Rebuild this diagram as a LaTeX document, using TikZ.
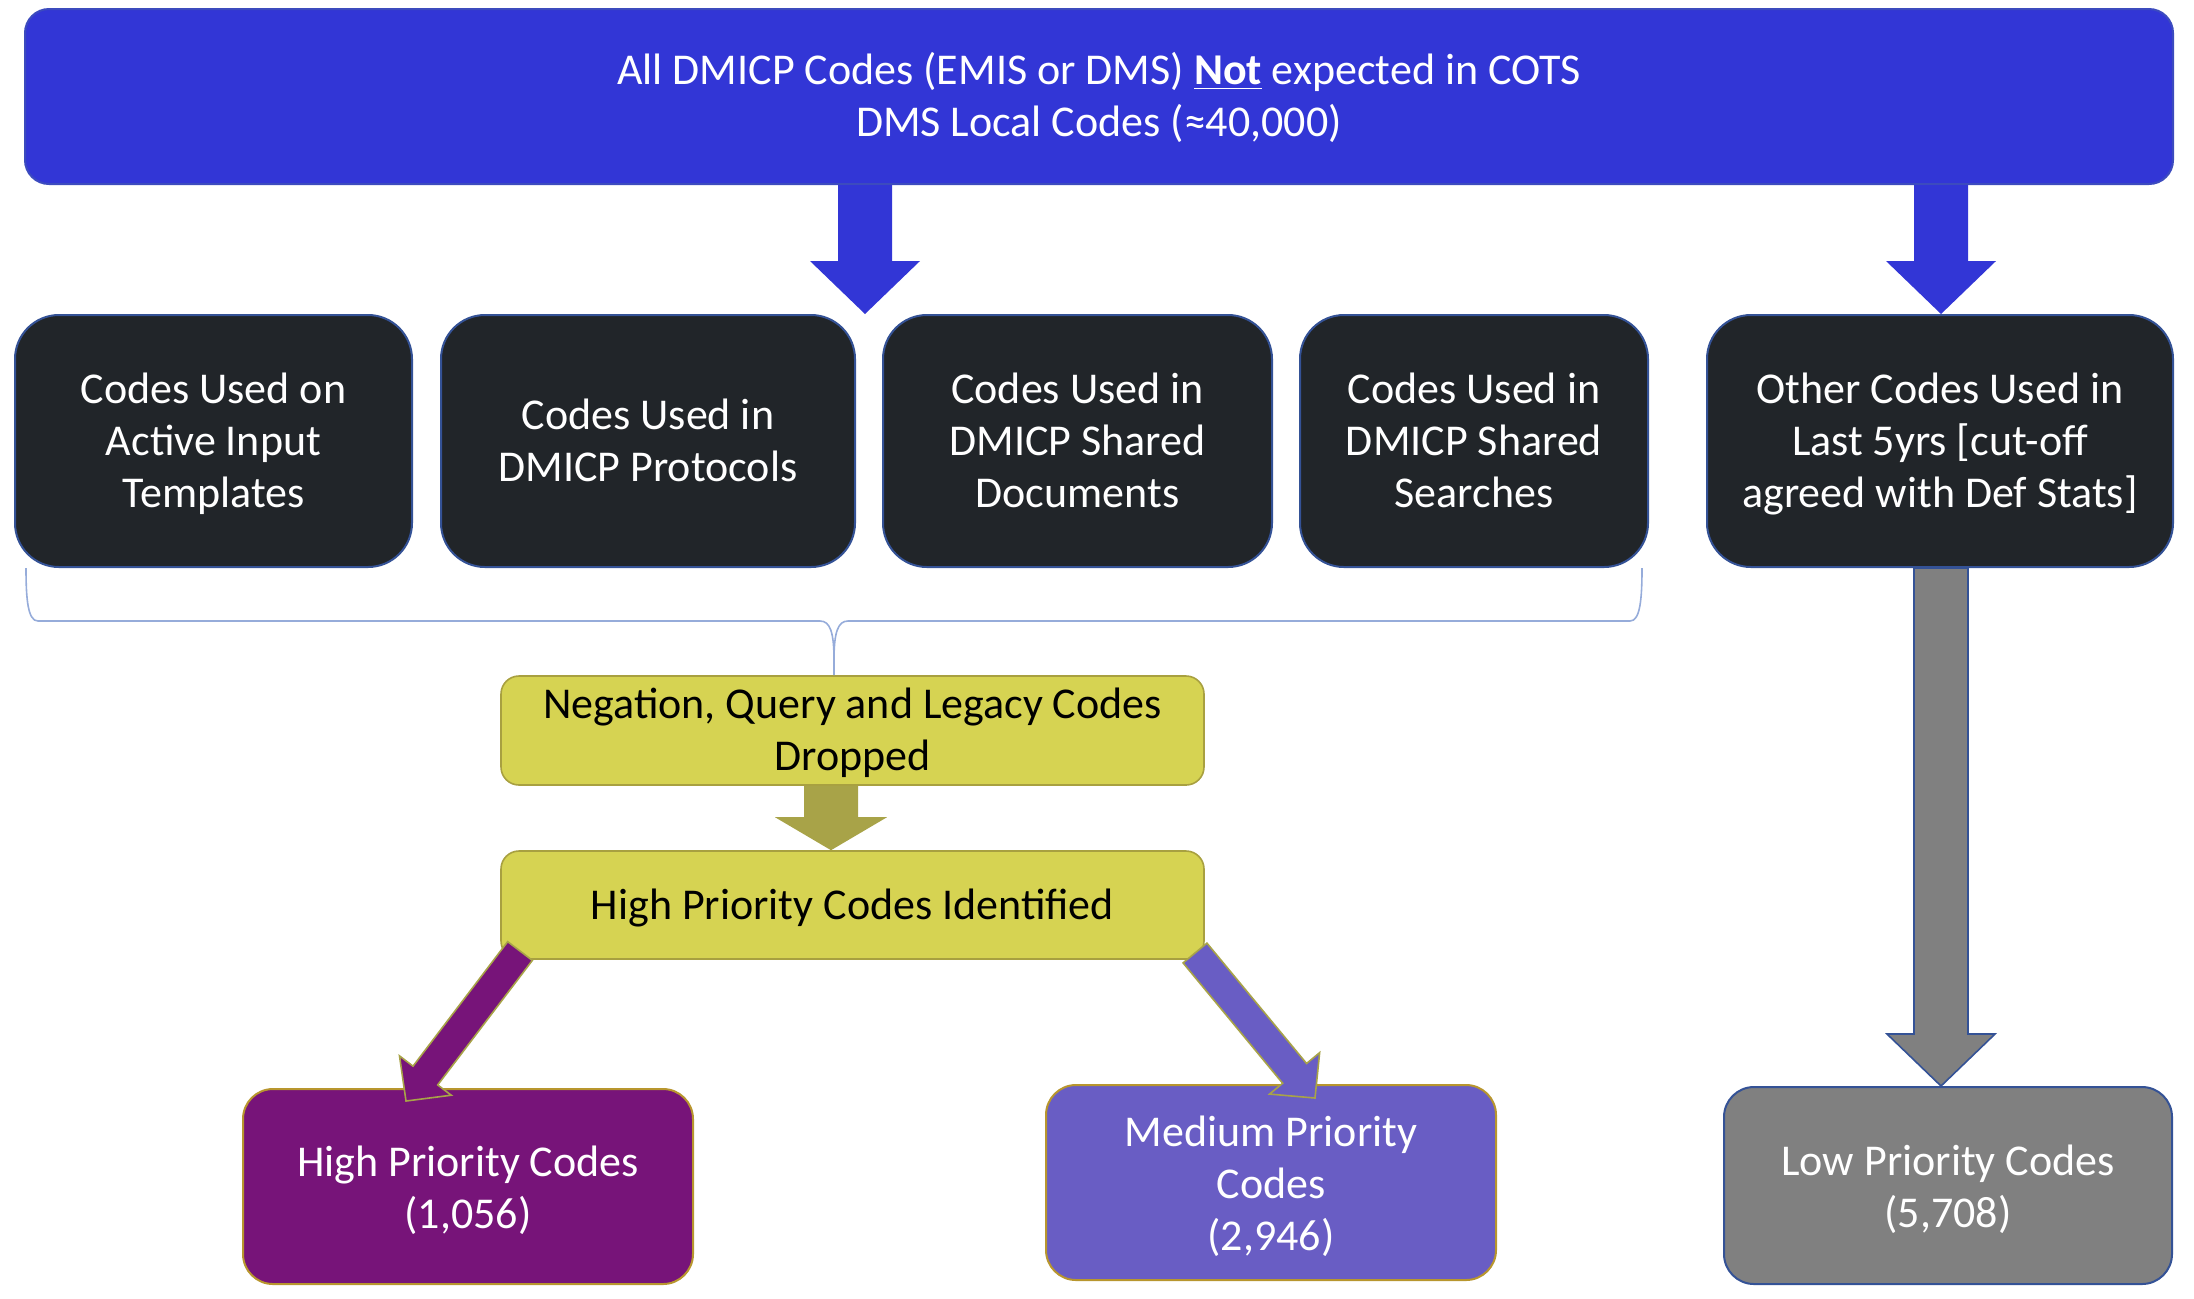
\documentclass[tikz,border=0pt]{standalone}
\usepackage{fontspec}
\setmainfont{Carlito}
\usetikzlibrary{calc}
\definecolor{cBlue}{RGB}{50,54,214}
\definecolor{cBlueB}{RGB}{60,75,190}
\definecolor{cDark}{RGB}{33,37,41}
\definecolor{cDarkB}{RGB}{52,82,150}
\definecolor{cYel}{RGB}{214,211,82}
\definecolor{cYelB}{RGB}{168,160,64}
\definecolor{cOlive}{RGB}{168,163,72}
\definecolor{cPurp}{RGB}{119,20,121}
\definecolor{cMed}{RGB}{105,93,196}
\definecolor{cGold}{RGB}{184,150,46}
\definecolor{cGray}{RGB}{128,128,128}
\definecolor{cBrace}{RGB}{150,172,218}
\newcommand\fs{\fontsize{22pt}{26pt}\selectfont}
\newcommand\ml[1]{\raisebox{-2pt}[\height][\depth]{\begin{tabular}{@{}c@{}}#1\end{tabular}}}
\newcommand\mlb[1]{\raisebox{-3pt}[\height][\depth]{\begin{tabular}{@{}c@{}}#1\end{tabular}}}
\newcommand{\blockarrow}[6]{%
  \coordinate (ba-h) at ($(#3)!#6!(#2)$);
  \draw[#1] ($(#2)!#4!90:(#3)$) -- ($(ba-h)!#4!90:(#3)$) -- ($(ba-h)!#5!90:(#3)$) -- (#3)
    -- ($(ba-h)!#5!-90:(#3)$) -- ($(ba-h)!#4!-90:(#3)$) -- ($(#2)!#4!-90:(#3)$) -- cycle;
}
\tikzset{
  box/.style={inner sep=0pt, font=\fs},
  topbox/.style={box, fill=cBlue, draw=cBlueB, line width=1pt, rounded corners=12pt, text=white},
  darkbox/.style={box, fill=cDark, draw=cDarkB, line width=1pt, rounded corners=22pt, text=white, minimum height=126pt},
  yelbox/.style={box, fill=cYel, draw=cYelB, line width=0.8pt, rounded corners=9pt, text=black, minimum width=351.5pt},
  hibox/.style={box, fill=cPurp, draw=cGold, line width=1pt, rounded corners=15pt, text=white, minimum width=225pt, minimum height=97.5pt},
  medbox/.style={box, fill=cMed, draw=cGold, line width=1pt, rounded corners=15pt, text=white, minimum width=225pt, minimum height=97.5pt},
  lowbox/.style={box, fill=cGray, draw=cDarkB, line width=1pt, rounded corners=15pt, text=white, minimum width=224pt, minimum height=98.5pt},
  bluearrow/.style={fill=cBlue, draw=none},
  olivearrow/.style={fill=cOlive, draw=none},
  grayarrow/.style={fill=cGray, draw=cDarkB, line width=0.8pt, line join=miter},
  purparrow/.style={fill=cPurp, draw=cOlive, line width=0.8pt, line join=miter},
  medarrow/.style={fill=cMed, draw=cOlive, line width=0.8pt, line join=miter},
  brace/.style={draw=cBrace, line width=0.8pt},
}
\begin{document}
\begin{tikzpicture}[x=0.5pt,y=-0.5pt]
\useasboundingbox (0,0) rectangle (2194,1298);
% top
\node[topbox, minimum width=1074pt, minimum height=87.5pt] (top) at (1099,96.5)
  {\ml{All DMICP Codes (EMIS or DMS) \underline{\textbf{Not}} expected in COTS\\DMS Local Codes (≈40,000)}};
% dark boxes
\node[darkbox, minimum width=198.5pt] (d1) at (213.5,441) {\ml{Codes Used on\\Active Input\\Templates}};
\node[darkbox, minimum width=207pt] (d2) at (648,441) {\ml{Codes Used in\\DMICP Protocols}};
\node[darkbox, minimum width=194.5pt] (d3) at (1077.5,441) {\ml{Codes Used in\\DMICP Shared\\Documents}};
\node[darkbox, minimum width=174pt] (d4) at (1474,441) {\ml{Codes Used in\\DMICP Shared\\Searches}};
\node[darkbox, minimum width=233pt] (d5) at (1940,441) {\ml{Other Codes Used in\\Last 5yrs [cut-off\\agreed with Def Stats]}};
% yellow
\node[yelbox, minimum height=54.5pt] (y1) at (852.5,730.5) {\ml{Negation, Query and Legacy Codes\\Dropped}};
\node[yelbox, minimum height=54pt] (y2) at (852.5,905) {\ml{High Priority Codes Identified}};
% bottom
\node[hibox] (hp) at (468,1186.5) {\mlb{High Priority Codes\\(1,056)}};
\node[medbox] (mp) at (1271,1182.5) {\mlb{Medium Priority\\Codes\\(2,946)}};
\node[lowbox] (lp) at (1948,1185.5) {\mlb{Low Priority Codes\\(5,708)}};
% coordinates for arrows
\coordinate (a1s) at (top.south -| 865,0);
\coordinate (a1e) at (d1.north -| 865,0);
\coordinate (a2s) at (top.south -| 1941,0);
\coordinate (a2e) at (d5.north -| 1941,0);
\coordinate (a3s) at (y1.south -| 831,0);
\coordinate (a3e) at (y2.north -| 831,0);
\coordinate (a4s) at (d5.south -| 1941,0);
\coordinate (a4e) at (lp.north -| 1941,0);
\coordinate (a5s) at (520,951);
\coordinate (a5e) at (406,1101);
\coordinate (a6s) at (1195,953);
\coordinate (a6e) at (1315,1098);
\blockarrow{bluearrow}{a1s}{a1e}{13.5pt}{27.5pt}{26.5pt}
\blockarrow{bluearrow}{a2s}{a2e}{13.5pt}{27.5pt}{26.5pt}
\blockarrow{olivearrow}{a3s}{a3e}{13.5pt}{28pt}{16.5pt}
\blockarrow{grayarrow}{a4s}{a4e}{13.5pt}{27pt}{26pt}
\blockarrow{purparrow}{a5s}{a5e}{7.75pt}{16.25pt}{16pt}
\blockarrow{medarrow}{a6s}{a6e}{7.75pt}{16.25pt}{16pt}
% brace
\coordinate (bl) at (d1.south -| 26,0);
\coordinate (br) at (d4.south -| 1642,0);
\coordinate (bm) at (y1.north -| 834,0);
\draw[brace] (bl) .. controls (26,600) and (28,621) .. (38,621) -- (820,621)
  .. controls (830,621) and (834,632) .. (834,660) -- (bm);
\draw[brace] (br) .. controls (1642,600) and (1640,621) .. (1630,621) -- (848,621)
  .. controls (838,621) and (834,632) .. (834,660);
\end{tikzpicture}
\end{document}
